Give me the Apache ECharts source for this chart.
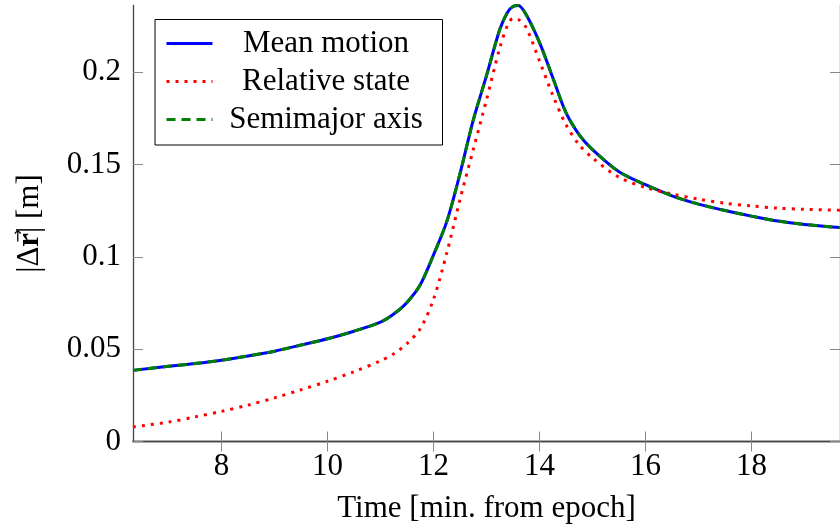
<!DOCTYPE html>
<html>
<head>
<meta charset="utf-8">
<script src="https://cdn.jsdelivr.net/npm/echarts@6/dist/echarts.min.js"></script>
<style>
html,body{margin:0;padding:0;background:#fff;}
#chart{width:840px;height:529px;}
</style>
</head>
<body>
<div id="chart"></div>
<script>
const timeValues = [6.33, 7, 7.5, 8, 8.5, 9, 9.5, 10, 10.5, 11, 11.25, 11.5, 11.75, 12, 12.25, 12.5, 12.75, 13, 13.25, 13.4, 13.5, 13.6, 13.75, 14, 14.25, 14.5, 14.75, 15, 15.5, 16, 16.5, 17, 17.5, 18, 18.5, 19, 19.67];
const meanMotion = [0.0385, 0.0407, 0.0422, 0.0440, 0.0463, 0.0489, 0.0522, 0.0556, 0.0597, 0.0646, 0.0690, 0.0753, 0.0848, 0.1010, 0.1190, 0.1450, 0.1740, 0.1980, 0.2230, 0.2325, 0.2355, 0.2360, 0.2310, 0.2160, 0.1970, 0.1780, 0.1660, 0.1580, 0.1460, 0.1390, 0.1330, 0.1285, 0.1250, 0.1220, 0.1193, 0.1175, 0.1158];
const relativeState = [0.0079, 0.0105, 0.0133, 0.0163, 0.0197, 0.0236, 0.0280, 0.0326, 0.0378, 0.0437, 0.0475, 0.0530, 0.0610, 0.0770, 0.1020, 0.1310, 0.1580, 0.1850, 0.2130, 0.2255, 0.2290, 0.2285, 0.2240, 0.2060, 0.1875, 0.1715, 0.1605, 0.1535, 0.1430, 0.1375, 0.1340, 0.1312, 0.1290, 0.1275, 0.1263, 0.1257, 0.1252];
const semimajorAxis = [0.0385, 0.0407, 0.0422, 0.0440, 0.0463, 0.0489, 0.0522, 0.0556, 0.0597, 0.0646, 0.0690, 0.0753, 0.0848, 0.1010, 0.1190, 0.1450, 0.1740, 0.1980, 0.2230, 0.2325, 0.2355, 0.2360, 0.2310, 0.2160, 0.1970, 0.1780, 0.1660, 0.1580, 0.1460, 0.1390, 0.1330, 0.1285, 0.1250, 0.1220, 0.1193, 0.1175, 0.1158];
const xTicks = [8, 10, 12, 14, 16, 18];
const yTicks = [0, 0.05, 0.1, 0.15, 0.2];
const seriesNames = ['Mean motion', 'Relative state', 'Semimajor axis'];

const FONT = 'Liberation Serif';
const FS = 31;
const toPairs = arr => timeValues.map((t, i) => [t, arr[i]]);

const axisLineStyle = { color: '#444', width: 1.3 };
const tickStyle = { color: '#888', width: 1 };

const chart = echarts.init(document.getElementById('chart'), null, { renderer: 'canvas' });
chart.setOption({
  animation: false,
  backgroundColor: '#fff',
  grid: { left: 133, top: 5.5, right: 0, bottom: 86, containLabel: false },
  legend: {
    data: seriesNames,
    orient: 'vertical',
    left: 155,
    top: 19.5,
    padding: [8.5, 8, 10, 10],
    itemGap: 7,
    itemWidth: 46,
    itemHeight: 14,
    borderColor: '#000',
    borderWidth: 1,
    borderRadius: 0,
    backgroundColor: '#fff',
    itemStyle: { opacity: 0 },
    lineStyle: { width: 3 },
    formatter: name => '{c|' + name + '}',
    textStyle: {
      fontFamily: FONT, fontSize: FS, color: '#000',
      rich: { c: { width: 217, align: 'center', fontFamily: FONT, fontSize: FS, lineHeight: 30, color: '#000' } }
    }
  },
  graphic: [{
    type: 'text', left: 11, top: 229, rotation: Math.PI / 2,
    style: { text: '\u2192', font: '16px "DejaVu Sans"', fill: '#000' }
  }],
  xAxis: [{
    type: 'value', min: 6.33, max: 19.67, position: 'bottom',
    name: 'Time [min. from epoch]', nameLocation: 'middle', nameGap: 52,
    nameTextStyle: { fontFamily: FONT, fontSize: FS, color: '#000', lineHeight: 30 },
    axisLine: { show: true, lineStyle: axisLineStyle },
    axisTick: { show: true, inside: true, length: 10, lineStyle: tickStyle, customValues: xTicks },
    axisLabel: { show: true, margin: 10, fontFamily: FONT, fontSize: FS, color: '#000', customValues: xTicks },
    splitLine: { show: false }
  }, {
    type: 'value', min: 6.33, max: 19.67, position: 'top',
    axisLine: { show: true, lineStyle: axisLineStyle },
    axisTick: { show: true, inside: true, length: 10, lineStyle: tickStyle, customValues: xTicks },
    axisLabel: { show: false },
    splitLine: { show: false }
  }],
  yAxis: [{
    type: 'value', min: 0, max: 0.236, position: 'left',
    name: '{n||Δ}{b|r}{n|| [m]}', nameLocation: 'middle', nameGap: 88, nameRotate: 90,
    nameTextStyle: {
      fontFamily: FONT, fontSize: FS, color: '#000',
      rich: {
        n: { fontFamily: FONT, fontSize: FS, color: '#000' },
        b: { fontFamily: FONT, fontSize: FS, fontWeight: 'bold', color: '#000' }
      }
    },
    axisLine: { show: true, lineStyle: axisLineStyle },
    axisTick: { show: true, inside: true, length: 10, lineStyle: tickStyle, customValues: yTicks },
    axisLabel: { show: true, margin: 12, fontFamily: FONT, fontSize: FS, color: '#000', customValues: yTicks },
    splitLine: { show: false }
  }, {
    type: 'value', min: 0, max: 0.236, position: 'right',
    axisLine: { show: true, lineStyle: axisLineStyle },
    axisTick: { show: true, inside: true, length: 10, lineStyle: tickStyle, customValues: yTicks },
    axisLabel: { show: false },
    splitLine: { show: false }
  }],
  series: [{
    name: seriesNames[0], type: 'line', data: toPairs(meanMotion), symbol: 'none', smooth: 0.3,
    lineStyle: { color: '#0000ff', width: 3, type: 'solid' },
    itemStyle: { color: '#0000ff' }, z: 2
  }, {
    name: seriesNames[1], type: 'line', data: toPairs(relativeState), symbol: 'none', smooth: 0.3,
    lineStyle: { color: '#ff0000', width: 3, type: [3, 6], cap: 'butt' },
    itemStyle: { color: '#ff0000' }, z: 3
  }, {
    name: seriesNames[2], type: 'line', data: toPairs(semimajorAxis), symbol: 'none', smooth: 0.3,
    lineStyle: { color: '#008000', width: 3, type: [9, 6], cap: 'butt' },
    itemStyle: { color: '#008000' }, z: 4
  }]
});
</script>
</body>
</html>
